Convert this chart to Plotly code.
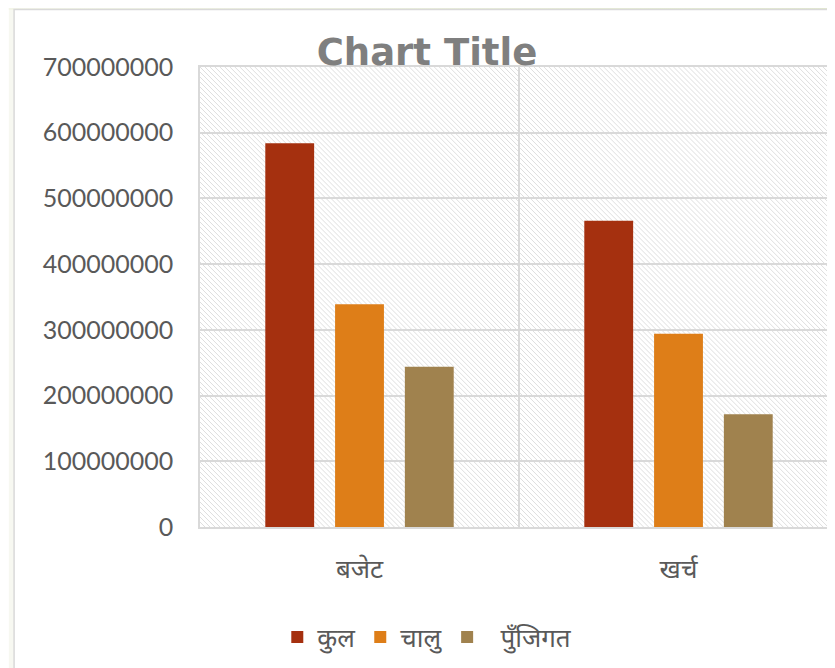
import plotly.graph_objects as go
import base64

categories = ["बजेट", "खर्च"]
series_names = ["कुल", "चालु", "\u00a0\u00a0पुँजिगत"]
series_values = {
    "कुल": [584000000, 466000000],
    "चालु": [339000000, 294000000],
    "\u00a0\u00a0पुँजिगत": [244000000, 171500000],
}
series_colors = {"कुल": "#a5300f", "चालु": "#de7e18", "\u00a0\u00a0पुँजिगत": "#a0824e"}
y_ticks = [0, 100000000, 200000000, 300000000, 400000000, 500000000, 600000000, 700000000]

W, H = 835, 668
ML, MT, MB, MR = 192, 59, 149, 0
PW, PH = W - ML - MR, H - MT - MB
band_px = 320

svg = f'''<svg xmlns="http://www.w3.org/2000/svg" width="{W}" height="{H}" viewBox="0 0 {W} {H}">
<defs>
<linearGradient id="g" x1="0" y1="0" x2="1" y2="0">
<stop offset="0" stop-color="#f3f5e8"/><stop offset="1" stop-color="#e2e9cd"/>
</linearGradient>
<pattern id="p" width="5" height="5" patternUnits="userSpaceOnUse" x="{ML}" y="{MT}">
<path d="M-1,-1 L6,6 M-1,4 L1,6 M4,-1 L6,1" stroke="#dedede" stroke-width="1"/>
</pattern>
</defs>
<rect x="0" y="0" width="{W}" height="{H}" fill="#f7f8f1"/>
<rect x="0" y="0" width="{W}" height="2" fill="url(#g)"/>
<rect x="5.5" y="1.5" width="{W}" height="{H}" fill="#ffffff" stroke="#d9d9d9" stroke-width="1.5"/>
<rect x="{ML}" y="{MT}" width="{PW}" height="{PH}" fill="url(#p)"/>
</svg>'''
uri = "data:image/svg+xml;base64," + base64.b64encode(svg.encode()).decode()

fig = go.Figure()
for name in series_names:
    fig.add_trace(go.Bar(
        name=name, x=categories, y=series_values[name],
        marker=dict(color=series_colors[name], line=dict(width=0)),
    ))

fig.update_layout(
    width=W, height=H,
    margin=dict(l=ML, r=MR, t=MT, b=MB, pad=0),
    paper_bgcolor="#ffffff",
    plot_bgcolor="rgba(0,0,0,0)",
    barmode="group",
    bargap=1 - 210 / band_px,
    bargroupgap=0.3,
    font=dict(family="Lato, Noto Sans, sans-serif", color="#595959"),
    title=dict(text="<b>Chart Title</b>", xref="container", x=419 / W, xanchor="center",
               yref="container", y=1 - 44 / H, yanchor="middle",
               font=dict(size=37, color="#7f7f7f", family="DejaVu Sans, sans-serif")),
    images=[dict(source=uri, xref="paper", yref="paper", x=-ML / PW, y=1 + MT / PH,
                 sizex=W / PW, sizey=H / PH, sizing="stretch", xanchor="left", yanchor="top",
                 layer="below")],
    showlegend=True,
    legend=dict(orientation="h", xref="paper", x=(420 - ML) / PW, xanchor="center",
                yref="paper", y=(MT + PH - 629) / PH, yanchor="middle",
                font=dict(size=26, color="#595959"), itemwidth=30, bgcolor="rgba(0,0,0,0)"),
    yaxis=dict(range=[0, 700000000], tickvals=y_ticks, ticktext=[str(v) for v in y_ticks],
               showgrid=True, gridcolor="#d9d9d9", gridwidth=1.5,
               showline=True, linecolor="#d9d9d9", linewidth=1.5, mirror=True,
               ticks="", ticklabelstandoff=20, zeroline=False,
               tickfont=dict(size=25, color="#595959")),
    xaxis=dict(range=[-0.5, -0.5 + PW / band_px], type="category",
               tickson="boundaries", showgrid=True, gridcolor="#d9d9d9", gridwidth=1.5,
               showline=True, linecolor="#d9d9d9", linewidth=1.5, mirror=True,
               ticks="", ticklabelstandoff=18,
               tickfont=dict(size=26, color="#595959")),
)

fig.write_html("out.html")
